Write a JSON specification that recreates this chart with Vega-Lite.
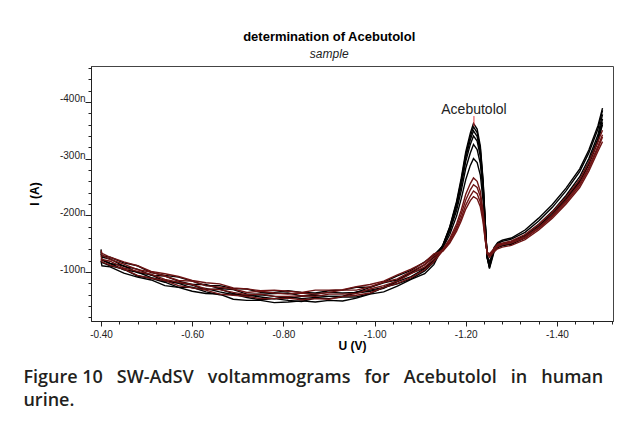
{
"$schema":"https://vega.github.io/schema/vega-lite/v6.json",
"background":"white",
"padding":{"left":22,"top":31,"right":0,"bottom":0},
"title":{"text":"determination of Acebutolol","subtitle":"sample","font":"Liberation Sans","fontSize":13,"fontWeight":"bold","color":"#000","subtitleFont":"Liberation Sans","subtitleFontSize":12,"subtitleFontStyle":"italic","subtitleColor":"#222","subtitlePadding":5,"anchor":"middle","offset":-1,"dx":11},
"datasets":{
"curves":[
{"c":"B1","u":-0.4,"i":-140},{"c":"B1","u":-0.402,"i":-122},{"c":"B1","u":-0.42,"i":-115},{"c":"B1","u":-0.45,"i":-111},{"c":"B1","u":-0.48,"i":-99},{"c":"B1","u":-0.51,"i":-95},{"c":"B1","u":-0.54,"i":-84},{"c":"B1","u":-0.57,"i":-81},{"c":"B1","u":-0.6,"i":-77},{"c":"B1","u":-0.63,"i":-69},{"c":"B1","u":-0.66,"i":-70},{"c":"B1","u":-0.69,"i":-62},{"c":"B1","u":-0.72,"i":-58},{"c":"B1","u":-0.75,"i":-60},{"c":"B1","u":-0.78,"i":-57},{"c":"B1","u":-0.81,"i":-53},{"c":"B1","u":-0.84,"i":-57},{"c":"B1","u":-0.87,"i":-59},{"c":"B1","u":-0.9,"i":-57},{"c":"B1","u":-0.93,"i":-57},{"c":"B1","u":-0.96,"i":-65},{"c":"B1","u":-0.99,"i":-68},{"c":"B1","u":-1.02,"i":-73},{"c":"B1","u":-1.05,"i":-85},{"c":"B1","u":-1.08,"i":-98},{"c":"B1","u":-1.11,"i":-107},{"c":"B1","u":-1.13,"i":-122},{"c":"B1","u":-1.15,"i":-148},{"c":"B1","u":-1.165,"i":-180},{"c":"B1","u":-1.18,"i":-225},{"c":"B1","u":-1.19,"i":-265},{"c":"B1","u":-1.2,"i":-312},{"c":"B1","u":-1.21,"i":-345},{"c":"B1","u":-1.217,"i":-362},{"c":"B1","u":-1.225,"i":-352},{"c":"B1","u":-1.232,"i":-322},{"c":"B1","u":-1.238,"i":-262},{"c":"B1","u":-1.243,"i":-185},{"c":"B1","u":-1.247,"i":-125},{"c":"B1","u":-1.252,"i":-108},{"c":"B1","u":-1.262,"i":-138},{"c":"B1","u":-1.27,"i":-147},{"c":"B1","u":-1.28,"i":-150},{"c":"B1","u":-1.3,"i":-153},{"c":"B1","u":-1.33,"i":-165},{"c":"B1","u":-1.36,"i":-184},{"c":"B1","u":-1.39,"i":-207},{"c":"B1","u":-1.42,"i":-235},{"c":"B1","u":-1.45,"i":-268},{"c":"B1","u":-1.47,"i":-300},{"c":"B1","u":-1.49,"i":-342},{"c":"B1","u":-1.5,"i":-378},
{"c":"B2","u":-0.4,"i":-132},{"c":"B2","u":-0.402,"i":-126},{"c":"B2","u":-0.42,"i":-123},{"c":"B2","u":-0.45,"i":-110},{"c":"B2","u":-0.48,"i":-105},{"c":"B2","u":-0.51,"i":-94},{"c":"B2","u":-0.54,"i":-93},{"c":"B2","u":-0.57,"i":-84},{"c":"B2","u":-0.6,"i":-78},{"c":"B2","u":-0.63,"i":-78},{"c":"B2","u":-0.66,"i":-71},{"c":"B2","u":-0.69,"i":-69},{"c":"B2","u":-0.72,"i":-61},{"c":"B2","u":-0.75,"i":-61},{"c":"B2","u":-0.78,"i":-62},{"c":"B2","u":-0.81,"i":-63},{"c":"B2","u":-0.84,"i":-58},{"c":"B2","u":-0.87,"i":-61},{"c":"B2","u":-0.9,"i":-64},{"c":"B2","u":-0.93,"i":-63},{"c":"B2","u":-0.96,"i":-64},{"c":"B2","u":-0.99,"i":-73},{"c":"B2","u":-1.02,"i":-81},{"c":"B2","u":-1.05,"i":-86},{"c":"B2","u":-1.08,"i":-99},{"c":"B2","u":-1.11,"i":-113},{"c":"B2","u":-1.13,"i":-126},{"c":"B2","u":-1.15,"i":-147},{"c":"B2","u":-1.165,"i":-179},{"c":"B2","u":-1.18,"i":-222},{"c":"B2","u":-1.19,"i":-261},{"c":"B2","u":-1.2,"i":-307},{"c":"B2","u":-1.21,"i":-339},{"c":"B2","u":-1.217,"i":-356},{"c":"B2","u":-1.225,"i":-346},{"c":"B2","u":-1.232,"i":-317},{"c":"B2","u":-1.238,"i":-259},{"c":"B2","u":-1.243,"i":-183},{"c":"B2","u":-1.247,"i":-125},{"c":"B2","u":-1.252,"i":-110},{"c":"B2","u":-1.262,"i":-141},{"c":"B2","u":-1.27,"i":-150},{"c":"B2","u":-1.28,"i":-154},{"c":"B2","u":-1.3,"i":-158},{"c":"B2","u":-1.33,"i":-170},{"c":"B2","u":-1.36,"i":-190},{"c":"B2","u":-1.39,"i":-214},{"c":"B2","u":-1.42,"i":-243},{"c":"B2","u":-1.45,"i":-277},{"c":"B2","u":-1.47,"i":-310},{"c":"B2","u":-1.49,"i":-352},{"c":"B2","u":-1.5,"i":-385},
{"c":"B3","u":-0.4,"i":-120},{"c":"B3","u":-0.402,"i":-117},{"c":"B3","u":-0.42,"i":-111},{"c":"B3","u":-0.45,"i":-105},{"c":"B3","u":-0.48,"i":-93},{"c":"B3","u":-0.51,"i":-89},{"c":"B3","u":-0.54,"i":-82},{"c":"B3","u":-0.57,"i":-73},{"c":"B3","u":-0.6,"i":-73},{"c":"B3","u":-0.63,"i":-65},{"c":"B3","u":-0.66,"i":-60},{"c":"B3","u":-0.69,"i":-61},{"c":"B3","u":-0.72,"i":-55},{"c":"B3","u":-0.75,"i":-51},{"c":"B3","u":-0.78,"i":-53},{"c":"B3","u":-0.81,"i":-50},{"c":"B3","u":-0.84,"i":-48},{"c":"B3","u":-0.87,"i":-54},{"c":"B3","u":-0.9,"i":-53},{"c":"B3","u":-0.93,"i":-56},{"c":"B3","u":-0.96,"i":-56},{"c":"B3","u":-0.99,"i":-62},{"c":"B3","u":-1.02,"i":-73},{"c":"B3","u":-1.05,"i":-79},{"c":"B3","u":-1.08,"i":-88},{"c":"B3","u":-1.11,"i":-102},{"c":"B3","u":-1.13,"i":-117},{"c":"B3","u":-1.15,"i":-147},{"c":"B3","u":-1.165,"i":-177},{"c":"B3","u":-1.18,"i":-220},{"c":"B3","u":-1.19,"i":-257},{"c":"B3","u":-1.2,"i":-302},{"c":"B3","u":-1.21,"i":-333},{"c":"B3","u":-1.217,"i":-349},{"c":"B3","u":-1.225,"i":-339},{"c":"B3","u":-1.232,"i":-311},{"c":"B3","u":-1.238,"i":-254},{"c":"B3","u":-1.243,"i":-182},{"c":"B3","u":-1.247,"i":-126},{"c":"B3","u":-1.252,"i":-106},{"c":"B3","u":-1.262,"i":-135},{"c":"B3","u":-1.27,"i":-144},{"c":"B3","u":-1.28,"i":-147},{"c":"B3","u":-1.3,"i":-149},{"c":"B3","u":-1.33,"i":-160},{"c":"B3","u":-1.36,"i":-178},{"c":"B3","u":-1.39,"i":-200},{"c":"B3","u":-1.42,"i":-227},{"c":"B3","u":-1.45,"i":-259},{"c":"B3","u":-1.47,"i":-290},{"c":"B3","u":-1.49,"i":-330},{"c":"B3","u":-1.5,"i":-364},
{"c":"B4","u":-0.4,"i":-136},{"c":"B4","u":-0.402,"i":-129},{"c":"B4","u":-0.42,"i":-126},{"c":"B4","u":-0.45,"i":-116},{"c":"B4","u":-0.48,"i":-111},{"c":"B4","u":-0.51,"i":-99},{"c":"B4","u":-0.54,"i":-94},{"c":"B4","u":-0.57,"i":-91},{"c":"B4","u":-0.6,"i":-84},{"c":"B4","u":-0.63,"i":-76},{"c":"B4","u":-0.66,"i":-76},{"c":"B4","u":-0.69,"i":-71},{"c":"B4","u":-0.72,"i":-70},{"c":"B4","u":-0.75,"i":-64},{"c":"B4","u":-0.78,"i":-64},{"c":"B4","u":-0.81,"i":-67},{"c":"B4","u":-0.84,"i":-64},{"c":"B4","u":-0.87,"i":-63},{"c":"B4","u":-0.9,"i":-67},{"c":"B4","u":-0.93,"i":-68},{"c":"B4","u":-0.96,"i":-73},{"c":"B4","u":-0.99,"i":-73},{"c":"B4","u":-1.02,"i":-82},{"c":"B4","u":-1.05,"i":-93},{"c":"B4","u":-1.08,"i":-103},{"c":"B4","u":-1.11,"i":-118},{"c":"B4","u":-1.13,"i":-130},{"c":"B4","u":-1.15,"i":-146},{"c":"B4","u":-1.165,"i":-175},{"c":"B4","u":-1.18,"i":-216},{"c":"B4","u":-1.19,"i":-252},{"c":"B4","u":-1.2,"i":-295},{"c":"B4","u":-1.21,"i":-325},{"c":"B4","u":-1.217,"i":-340},{"c":"B4","u":-1.225,"i":-331},{"c":"B4","u":-1.232,"i":-304},{"c":"B4","u":-1.238,"i":-249},{"c":"B4","u":-1.243,"i":-180},{"c":"B4","u":-1.247,"i":-127},{"c":"B4","u":-1.252,"i":-112},{"c":"B4","u":-1.262,"i":-143},{"c":"B4","u":-1.27,"i":-152},{"c":"B4","u":-1.28,"i":-156},{"c":"B4","u":-1.3,"i":-160},{"c":"B4","u":-1.33,"i":-174},{"c":"B4","u":-1.36,"i":-195},{"c":"B4","u":-1.39,"i":-219},{"c":"B4","u":-1.42,"i":-248},{"c":"B4","u":-1.45,"i":-282},{"c":"B4","u":-1.47,"i":-315},{"c":"B4","u":-1.49,"i":-358},{"c":"B4","u":-1.5,"i":-389},
{"c":"B5","u":-0.4,"i":-119},{"c":"B5","u":-0.402,"i":-111},{"c":"B5","u":-0.42,"i":-109},{"c":"B5","u":-0.45,"i":-98},{"c":"B5","u":-0.48,"i":-91},{"c":"B5","u":-0.51,"i":-86},{"c":"B5","u":-0.54,"i":-76},{"c":"B5","u":-0.57,"i":-73},{"c":"B5","u":-0.6,"i":-66},{"c":"B5","u":-0.63,"i":-62},{"c":"B5","u":-0.66,"i":-61},{"c":"B5","u":-0.69,"i":-52},{"c":"B5","u":-0.72,"i":-50},{"c":"B5","u":-0.75,"i":-50},{"c":"B5","u":-0.78,"i":-46},{"c":"B5","u":-0.81,"i":-47},{"c":"B5","u":-0.84,"i":-49},{"c":"B5","u":-0.87,"i":-47},{"c":"B5","u":-0.9,"i":-50},{"c":"B5","u":-0.93,"i":-49},{"c":"B5","u":-0.96,"i":-54},{"c":"B5","u":-0.99,"i":-61},{"c":"B5","u":-1.02,"i":-65},{"c":"B5","u":-1.05,"i":-75},{"c":"B5","u":-1.08,"i":-87},{"c":"B5","u":-1.11,"i":-97},{"c":"B5","u":-1.13,"i":-113},{"c":"B5","u":-1.15,"i":-145},{"c":"B5","u":-1.165,"i":-172},{"c":"B5","u":-1.18,"i":-209},{"c":"B5","u":-1.19,"i":-243},{"c":"B5","u":-1.2,"i":-283},{"c":"B5","u":-1.21,"i":-310},{"c":"B5","u":-1.217,"i":-325},{"c":"B5","u":-1.225,"i":-316},{"c":"B5","u":-1.232,"i":-291},{"c":"B5","u":-1.238,"i":-241},{"c":"B5","u":-1.243,"i":-176},{"c":"B5","u":-1.247,"i":-128},{"c":"B5","u":-1.252,"i":-115},{"c":"B5","u":-1.262,"i":-140},{"c":"B5","u":-1.27,"i":-146},{"c":"B5","u":-1.28,"i":-149},{"c":"B5","u":-1.3,"i":-152},{"c":"B5","u":-1.33,"i":-163},{"c":"B5","u":-1.36,"i":-181},{"c":"B5","u":-1.39,"i":-204},{"c":"B5","u":-1.42,"i":-231},{"c":"B5","u":-1.45,"i":-263},{"c":"B5","u":-1.47,"i":-294},{"c":"B5","u":-1.49,"i":-336},{"c":"B5","u":-1.5,"i":-370},
{"c":"B6","u":-0.4,"i":-124},{"c":"B6","u":-0.402,"i":-121},{"c":"B6","u":-0.42,"i":-115},{"c":"B6","u":-0.45,"i":-104},{"c":"B6","u":-0.48,"i":-100},{"c":"B6","u":-0.51,"i":-90},{"c":"B6","u":-0.54,"i":-85},{"c":"B6","u":-0.57,"i":-80},{"c":"B6","u":-0.6,"i":-72},{"c":"B6","u":-0.63,"i":-71},{"c":"B6","u":-0.66,"i":-65},{"c":"B6","u":-0.69,"i":-60},{"c":"B6","u":-0.72,"i":-59},{"c":"B6","u":-0.75,"i":-56},{"c":"B6","u":-0.78,"i":-53},{"c":"B6","u":-0.81,"i":-56},{"c":"B6","u":-0.84,"i":-53},{"c":"B6","u":-0.87,"i":-55},{"c":"B6","u":-0.9,"i":-57},{"c":"B6","u":-0.93,"i":-57},{"c":"B6","u":-0.96,"i":-63},{"c":"B6","u":-0.99,"i":-66},{"c":"B6","u":-1.02,"i":-71},{"c":"B6","u":-1.05,"i":-83},{"c":"B6","u":-1.08,"i":-92},{"c":"B6","u":-1.11,"i":-106},{"c":"B6","u":-1.13,"i":-120},{"c":"B6","u":-1.15,"i":-143},{"c":"B6","u":-1.165,"i":-166},{"c":"B6","u":-1.18,"i":-199},{"c":"B6","u":-1.19,"i":-229},{"c":"B6","u":-1.2,"i":-263},{"c":"B6","u":-1.21,"i":-288},{"c":"B6","u":-1.217,"i":-300},{"c":"B6","u":-1.225,"i":-293},{"c":"B6","u":-1.232,"i":-271},{"c":"B6","u":-1.238,"i":-226},{"c":"B6","u":-1.243,"i":-170},{"c":"B6","u":-1.247,"i":-129},{"c":"B6","u":-1.252,"i":-118},{"c":"B6","u":-1.262,"i":-137},{"c":"B6","u":-1.27,"i":-143},{"c":"B6","u":-1.28,"i":-146},{"c":"B6","u":-1.3,"i":-150},{"c":"B6","u":-1.33,"i":-161},{"c":"B6","u":-1.36,"i":-179},{"c":"B6","u":-1.39,"i":-201},{"c":"B6","u":-1.42,"i":-228},{"c":"B6","u":-1.45,"i":-260},{"c":"B6","u":-1.47,"i":-291},{"c":"B6","u":-1.49,"i":-332},{"c":"B6","u":-1.5,"i":-360},
{"c":"R1","u":-0.4,"i":-133},{"c":"R1","u":-0.402,"i":-130},{"c":"R1","u":-0.42,"i":-122},{"c":"R1","u":-0.45,"i":-114},{"c":"R1","u":-0.48,"i":-104},{"c":"R1","u":-0.51,"i":-100},{"c":"R1","u":-0.54,"i":-93},{"c":"R1","u":-0.57,"i":-85},{"c":"R1","u":-0.6,"i":-84},{"c":"R1","u":-0.63,"i":-76},{"c":"R1","u":-0.66,"i":-73},{"c":"R1","u":-0.69,"i":-70},{"c":"R1","u":-0.72,"i":-64},{"c":"R1","u":-0.75,"i":-66},{"c":"R1","u":-0.78,"i":-63},{"c":"R1","u":-0.81,"i":-61},{"c":"R1","u":-0.84,"i":-63},{"c":"R1","u":-0.87,"i":-61},{"c":"R1","u":-0.9,"i":-64},{"c":"R1","u":-0.93,"i":-68},{"c":"R1","u":-0.96,"i":-68},{"c":"R1","u":-0.99,"i":-74},{"c":"R1","u":-1.02,"i":-82},{"c":"R1","u":-1.05,"i":-88},{"c":"R1","u":-1.08,"i":-101},{"c":"R1","u":-1.11,"i":-113},{"c":"R1","u":-1.13,"i":-128},{"c":"R1","u":-1.15,"i":-140},{"c":"R1","u":-1.165,"i":-159},{"c":"R1","u":-1.18,"i":-185},{"c":"R1","u":-1.19,"i":-209},{"c":"R1","u":-1.2,"i":-237},{"c":"R1","u":-1.21,"i":-256},{"c":"R1","u":-1.217,"i":-266},{"c":"R1","u":-1.225,"i":-260},{"c":"R1","u":-1.232,"i":-242},{"c":"R1","u":-1.238,"i":-207},{"c":"R1","u":-1.243,"i":-162},{"c":"R1","u":-1.247,"i":-132},{"c":"R1","u":-1.252,"i":-128},{"c":"R1","u":-1.262,"i":-138},{"c":"R1","u":-1.27,"i":-145},{"c":"R1","u":-1.28,"i":-148},{"c":"R1","u":-1.3,"i":-151},{"c":"R1","u":-1.33,"i":-160},{"c":"R1","u":-1.36,"i":-177},{"c":"R1","u":-1.39,"i":-198},{"c":"R1","u":-1.42,"i":-223},{"c":"R1","u":-1.45,"i":-253},{"c":"R1","u":-1.47,"i":-282},{"c":"R1","u":-1.49,"i":-318},{"c":"R1","u":-1.5,"i":-338},
{"c":"R2","u":-0.4,"i":-129},{"c":"R2","u":-0.402,"i":-122},{"c":"R2","u":-0.42,"i":-119},{"c":"R2","u":-0.45,"i":-107},{"c":"R2","u":-0.48,"i":-101},{"c":"R2","u":-0.51,"i":-96},{"c":"R2","u":-0.54,"i":-87},{"c":"R2","u":-0.57,"i":-82},{"c":"R2","u":-0.6,"i":-78},{"c":"R2","u":-0.63,"i":-70},{"c":"R2","u":-0.66,"i":-69},{"c":"R2","u":-0.69,"i":-64},{"c":"R2","u":-0.72,"i":-60},{"c":"R2","u":-0.75,"i":-61},{"c":"R2","u":-0.78,"i":-57},{"c":"R2","u":-0.81,"i":-57},{"c":"R2","u":-0.84,"i":-58},{"c":"R2","u":-0.87,"i":-57},{"c":"R2","u":-0.9,"i":-61},{"c":"R2","u":-0.93,"i":-61},{"c":"R2","u":-0.96,"i":-62},{"c":"R2","u":-0.99,"i":-70},{"c":"R2","u":-1.02,"i":-76},{"c":"R2","u":-1.05,"i":-84},{"c":"R2","u":-1.08,"i":-97},{"c":"R2","u":-1.11,"i":-109},{"c":"R2","u":-1.13,"i":-123},{"c":"R2","u":-1.15,"i":-139},{"c":"R2","u":-1.165,"i":-156},{"c":"R2","u":-1.18,"i":-180},{"c":"R2","u":-1.19,"i":-202},{"c":"R2","u":-1.2,"i":-227},{"c":"R2","u":-1.21,"i":-245},{"c":"R2","u":-1.217,"i":-254},{"c":"R2","u":-1.225,"i":-249},{"c":"R2","u":-1.232,"i":-233},{"c":"R2","u":-1.238,"i":-200},{"c":"R2","u":-1.243,"i":-159},{"c":"R2","u":-1.247,"i":-133},{"c":"R2","u":-1.252,"i":-130},{"c":"R2","u":-1.262,"i":-142},{"c":"R2","u":-1.27,"i":-149},{"c":"R2","u":-1.28,"i":-151},{"c":"R2","u":-1.3,"i":-155},{"c":"R2","u":-1.33,"i":-166},{"c":"R2","u":-1.36,"i":-184},{"c":"R2","u":-1.39,"i":-206},{"c":"R2","u":-1.42,"i":-232},{"c":"R2","u":-1.45,"i":-263},{"c":"R2","u":-1.47,"i":-293},{"c":"R2","u":-1.49,"i":-330},{"c":"R2","u":-1.5,"i":-350},
{"c":"R3","u":-0.4,"i":-122},{"c":"R3","u":-0.402,"i":-118},{"c":"R3","u":-0.42,"i":-112},{"c":"R3","u":-0.45,"i":-105},{"c":"R3","u":-0.48,"i":-94},{"c":"R3","u":-0.51,"i":-89},{"c":"R3","u":-0.54,"i":-85},{"c":"R3","u":-0.57,"i":-76},{"c":"R3","u":-0.6,"i":-72},{"c":"R3","u":-0.63,"i":-68},{"c":"R3","u":-0.66,"i":-61},{"c":"R3","u":-0.69,"i":-59},{"c":"R3","u":-0.72,"i":-57},{"c":"R3","u":-0.75,"i":-53},{"c":"R3","u":-0.78,"i":-53},{"c":"R3","u":-0.81,"i":-54},{"c":"R3","u":-0.84,"i":-51},{"c":"R3","u":-0.87,"i":-53},{"c":"R3","u":-0.9,"i":-52},{"c":"R3","u":-0.93,"i":-57},{"c":"R3","u":-0.96,"i":-59},{"c":"R3","u":-0.99,"i":-63},{"c":"R3","u":-1.02,"i":-73},{"c":"R3","u":-1.05,"i":-80},{"c":"R3","u":-1.08,"i":-90},{"c":"R3","u":-1.11,"i":-104},{"c":"R3","u":-1.13,"i":-118},{"c":"R3","u":-1.15,"i":-138},{"c":"R3","u":-1.165,"i":-153},{"c":"R3","u":-1.18,"i":-176},{"c":"R3","u":-1.19,"i":-195},{"c":"R3","u":-1.2,"i":-218},{"c":"R3","u":-1.21,"i":-234},{"c":"R3","u":-1.217,"i":-243},{"c":"R3","u":-1.225,"i":-238},{"c":"R3","u":-1.232,"i":-223},{"c":"R3","u":-1.238,"i":-194},{"c":"R3","u":-1.243,"i":-156},{"c":"R3","u":-1.247,"i":-134},{"c":"R3","u":-1.252,"i":-126},{"c":"R3","u":-1.262,"i":-136},{"c":"R3","u":-1.27,"i":-141},{"c":"R3","u":-1.28,"i":-144},{"c":"R3","u":-1.3,"i":-147},{"c":"R3","u":-1.33,"i":-157},{"c":"R3","u":-1.36,"i":-174},{"c":"R3","u":-1.39,"i":-195},{"c":"R3","u":-1.42,"i":-220},{"c":"R3","u":-1.45,"i":-249},{"c":"R3","u":-1.47,"i":-278},{"c":"R3","u":-1.49,"i":-313},{"c":"R3","u":-1.5,"i":-330},
{"c":"R4","u":-0.4,"i":-138},{"c":"R4","u":-0.402,"i":-133},{"c":"R4","u":-0.42,"i":-126},{"c":"R4","u":-0.45,"i":-118},{"c":"R4","u":-0.48,"i":-111},{"c":"R4","u":-0.51,"i":-101},{"c":"R4","u":-0.54,"i":-97},{"c":"R4","u":-0.57,"i":-92},{"c":"R4","u":-0.6,"i":-85},{"c":"R4","u":-0.63,"i":-81},{"c":"R4","u":-0.66,"i":-79},{"c":"R4","u":-0.69,"i":-72},{"c":"R4","u":-0.72,"i":-70},{"c":"R4","u":-0.75,"i":-67},{"c":"R4","u":-0.78,"i":-68},{"c":"R4","u":-0.81,"i":-66},{"c":"R4","u":-0.84,"i":-64},{"c":"R4","u":-0.87,"i":-68},{"c":"R4","u":-0.9,"i":-68},{"c":"R4","u":-0.93,"i":-69},{"c":"R4","u":-0.96,"i":-74},{"c":"R4","u":-0.99,"i":-78},{"c":"R4","u":-1.02,"i":-84},{"c":"R4","u":-1.05,"i":-95},{"c":"R4","u":-1.08,"i":-105},{"c":"R4","u":-1.11,"i":-117},{"c":"R4","u":-1.13,"i":-132},{"c":"R4","u":-1.15,"i":-137},{"c":"R4","u":-1.165,"i":-151},{"c":"R4","u":-1.18,"i":-172},{"c":"R4","u":-1.19,"i":-190},{"c":"R4","u":-1.2,"i":-211},{"c":"R4","u":-1.21,"i":-226},{"c":"R4","u":-1.217,"i":-233},{"c":"R4","u":-1.225,"i":-229},{"c":"R4","u":-1.232,"i":-215},{"c":"R4","u":-1.238,"i":-188},{"c":"R4","u":-1.243,"i":-154},{"c":"R4","u":-1.247,"i":-135},{"c":"R4","u":-1.252,"i":-132},{"c":"R4","u":-1.262,"i":-140},{"c":"R4","u":-1.27,"i":-147},{"c":"R4","u":-1.28,"i":-150},{"c":"R4","u":-1.3,"i":-153},{"c":"R4","u":-1.33,"i":-162},{"c":"R4","u":-1.36,"i":-179},{"c":"R4","u":-1.39,"i":-200},{"c":"R4","u":-1.42,"i":-226},{"c":"R4","u":-1.45,"i":-256},{"c":"R4","u":-1.47,"i":-285},{"c":"R4","u":-1.49,"i":-322},{"c":"R4","u":-1.5,"i":-342}
],
"peak":[{"name":"Acebutolol","u":-1.218,"i":-357,"i2":-375}]
},
"vconcat":[
{
"width":522,"height":255,
"title":{"text":"Figure 10\u00a0\u00a0 SW-AdSV\u00a0\u00a0 voltammograms\u00a0\u00a0 for\u00a0\u00a0 Acebutolol\u00a0\u00a0 in\u00a0\u00a0 human","subtitle":"urine.","orient":"bottom","anchor":"start","frame":"bounds","font":"Open Sans","fontSize":18,"fontWeight":600,"color":"#231f20","subtitleFont":"Open Sans","subtitleFontSize":18,"subtitleFontWeight":600,"subtitleColor":"#231f20","subtitlePadding":5,"offset":18,"dx":-5},
"layer":[
{"data":{"name":"curves"},"mark":{"type":"line","strokeWidth":1.4,"clip":true},
"encoding":{
"x":{"field":"u","type":"quantitative","title":"U (V)","scale":{"domain":[-1.523,-0.378],"reverse":true,"nice":false,"zero":false},
"axis":{"title":"U (V)","tickCount":100,"values":[-0.4,-0.44,-0.48,-0.52,-0.56,-0.6,-0.64,-0.68,-0.72,-0.76,-0.8,-0.84,-0.88,-0.92,-0.96,-1,-1.04,-1.08,-1.12,-1.16,-1.2,-1.24,-1.28,-1.32,-1.36,-1.4,-1.44,-1.48,-1.52],
"labelExpr":"abs(round(datum.value*100)) % 20 == 0 ? '-' + format(abs(datum.value), '.2f') : ''",
"tickSize":{"condition":{"test":"abs(round(datum.value*100)) % 20 == 0","value":5},"value":3},
"tickColor":"#222","domainColor":"#222","grid":false,"labelFlush":false,"labelOverlap":false,"labelFont":"Liberation Sans","labelFontSize":10,"labelColor":"#222","labelPadding":3,"titleFont":"Liberation Sans","titleFontSize":12,"titleFontWeight":"bold","titleColor":"#000","titlePadding":1}},
"y":{"field":"i","type":"quantitative","title":"I (A)","scale":{"domain":[-463.3,-13.6],"reverse":true,"nice":false,"zero":false},
"axis":{"title":"I (A)","tickCount":100,"values":[-460,-440,-420,-400,-380,-360,-340,-320,-300,-280,-260,-240,-220,-200,-180,-160,-140,-120,-100,-80,-60,-40,-20],
"labelExpr":"datum.value % 100 == 0 ? '-' + abs(datum.value) + 'n' : ''",
"tickSize":{"condition":{"test":"datum.value % 100 == 0","value":6},"value":3},
"tickColor":"#222","domainColor":"#222","grid":false,"labelOverlap":false,"labelFont":"Liberation Sans","labelFontSize":10,"labelColor":"#222","labelBaseline":"alphabetic","labelPadding":0,"titleFont":"Liberation Sans","titleFontSize":12,"titleFontWeight":"bold","titleColor":"#000","titlePadding":18}},
"color":{"field":"c","type":"nominal","legend":null,"scale":{"domain":["R1","R2","R3","R4","B1","B2","B3","B4","B5","B6"],"range":["#6e1414","#6e1414","#6e1414","#6e1414","#000000","#000000","#000000","#000000","#000000","#000000"]}}
}},
{"data":{"name":"peak"},"mark":{"type":"rule","color":"#e8383d","strokeWidth":1},
"encoding":{"x":{"field":"u","type":"quantitative","title":"U (V)"},"y":{"field":"i","type":"quantitative","title":"I (A)"},"y2":{"field":"i2"}}},
{"data":{"name":"peak"},"mark":{"type":"text","font":"Liberation Sans","fontSize":14,"color":"#222","baseline":"alphabetic","align":"center","dy":-2},
"encoding":{"x":{"field":"u","type":"quantitative","title":"U (V)"},"y":{"field":"i2","type":"quantitative","title":"I (A)"},"text":{"field":"name"}}}
]
}
],
"config":{"view":{"stroke":"#444","strokeWidth":1},"concat":{"spacing":0}}
}
